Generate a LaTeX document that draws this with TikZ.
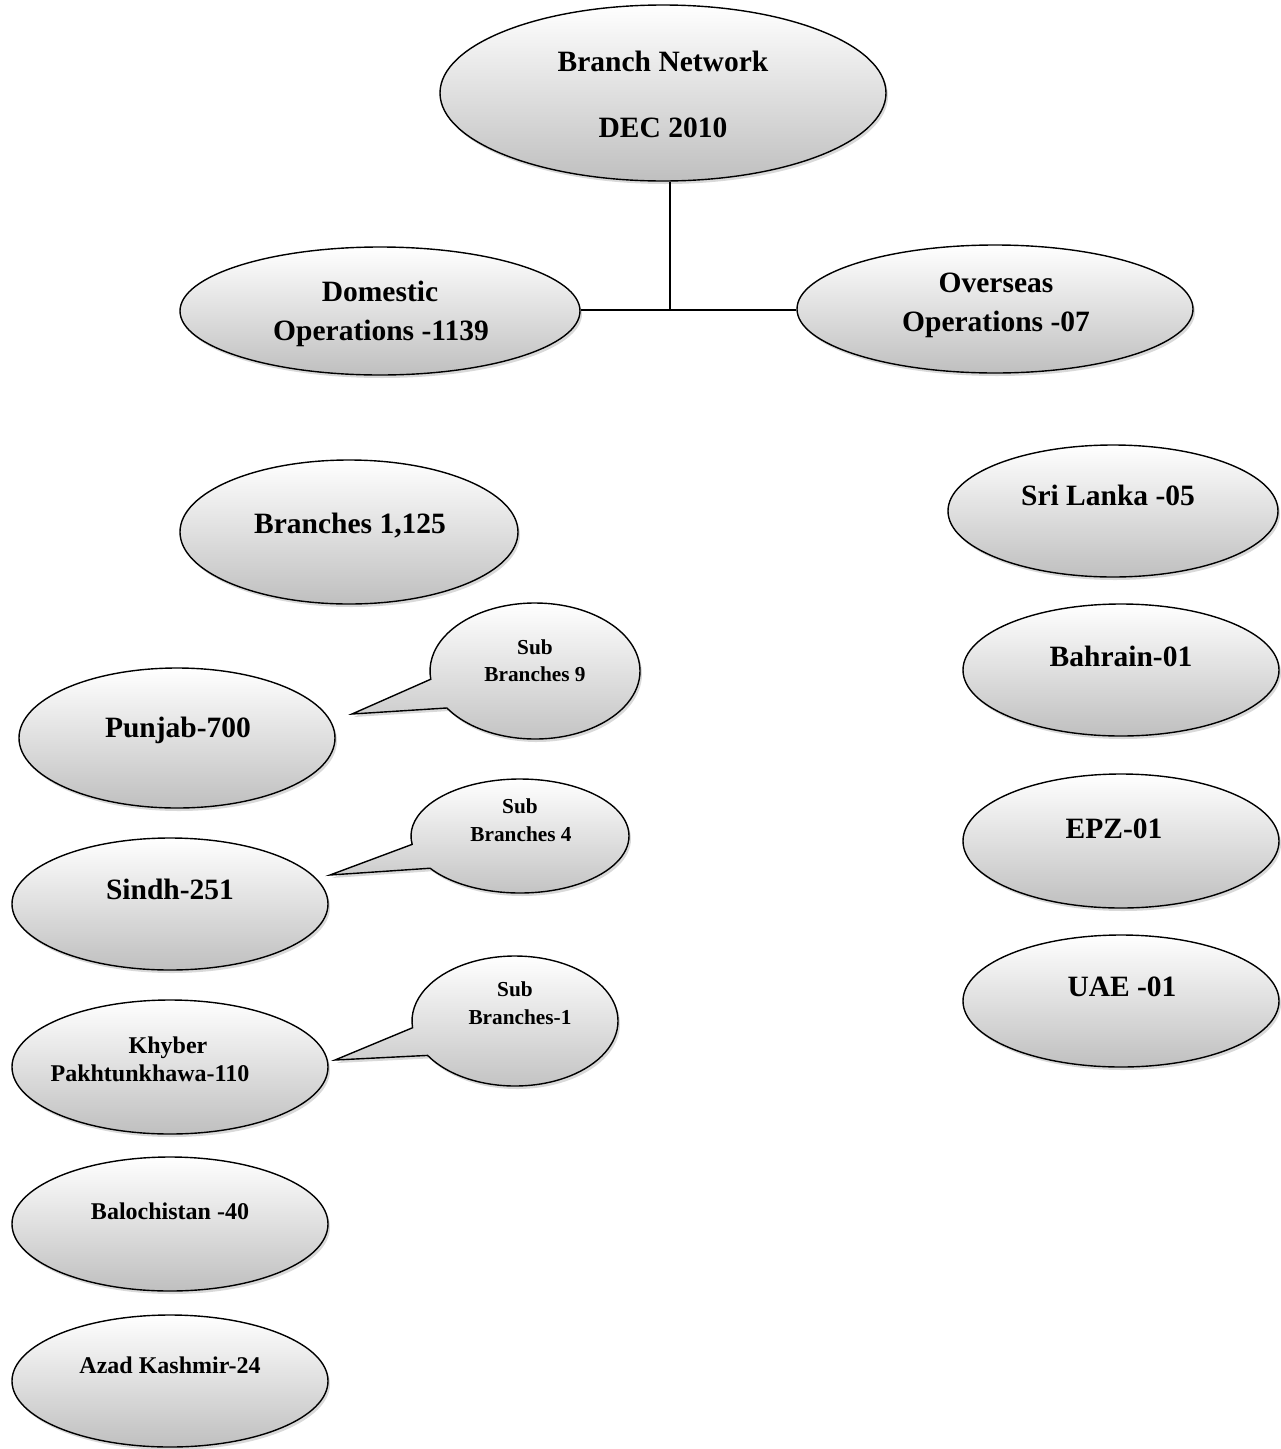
\documentclass[tikz,border=0pt]{standalone}
\usepackage{fontspec}
\setmainfont{Liberation Serif}
\usetikzlibrary{shapes.geometric,shapes.callouts,shadows,calc}
\begin{document}
\begin{tikzpicture}[x=1pt,y=-1pt,
  fillshade/.style={top color=white, bottom color=black!25,
    drop shadow={opacity=0.3, shadow xshift=2pt, shadow yshift=-3pt}},
  oval/.style={ellipse, draw=black, line width=1.4pt, inner sep=0pt, fillshade},
  bubble/.style={ellipse callout, draw=black, line width=1.4pt, inner sep=0pt,
    callout pointer arc=26, fillshade},
  big/.style={font=\fontsize{29.5}{33}\selectfont\bfseries, anchor=base, inner sep=0pt},
  mid/.style={font=\fontsize{24}{28}\selectfont\bfseries, anchor=base, inner sep=0pt},
  small/.style={font=\fontsize{21.3}{25}\selectfont\bfseries, anchor=base, inner sep=0pt},
  link/.style={line width=1.8pt}
]
\useasboundingbox (0,0) rectangle (1281,1449);

% top level
\node[oval, minimum width=446, minimum height=176] (net) at (663,93) {};
\node[big] (netA) at (663,71) {Branch Network};
\node[big] (netB) at (663,137) {DEC 2010};

% second level
\node[oval, minimum width=400, minimum height=128] (dom) at (380,311) {};
\node[big] (domA) at (380,301) {Domestic};
\node[big] (domB) at (381,340) {Operations -1139};
\node[oval, minimum width=396, minimum height=128] (ovs) at (995,309) {};
\node[big] (ovsA) at (996,292) {Overseas};
\node[big] (ovsB) at (996,331) {Operations -07};

% tree connectors
\coordinate (junc) at (670,310);
\draw[link] (net.south -| junc) -- (junc);
\draw[link] (dom.east |- junc) -- (ovs.west |- junc);

% domestic side
\node[oval, minimum width=338, minimum height=144] (br) at (349,532) {};
\node[big] (brT) at (350,533) {Branches 1,125};

\node[oval, minimum width=316, minimum height=140] (pun) at (177,738) {};
\node[big] (punT) at (178,737) {Punjab-700};
\node[oval, minimum width=316, minimum height=132] (sin) at (170,904) {};
\node[big] (sinT) at (170,899) {Sindh-251};
\node[oval, minimum width=316, minimum height=134] (kpk) at (170,1067) {};
\node[mid] (kpkA) at (168,1053) {Khyber};
\node[mid] (kpkB) at (150,1081) {Pakhtunkhawa-110};
\node[oval, minimum width=316, minimum height=134] (bal) at (170,1224) {};
\node[mid] (balT) at (170,1219) {Balochistan -40};
\node[oval, minimum width=316, minimum height=132] (ajk) at (170,1381) {};
\node[mid] (ajkT) at (170,1373) {Azad Kashmir-24};

% sub-branch callouts
\coordinate (tipA) at (352,714);
\coordinate (tipB) at (330,875);
\coordinate (tipC) at (335,1060);
\node[bubble, minimum width=210, minimum height=136, callout absolute pointer=(tipA)] (subA) at (535,671) {};
\node[small] (subAa) at (535,654) {Sub};
\node[small] (subAb) at (535,681) {Branches 9};
\node[bubble, minimum width=218, minimum height=114, callout absolute pointer=(tipB)] (subB) at (520,836) {};
\node[small] (subBa) at (520,813) {Sub};
\node[small] (subBb) at (521,841) {Branches 4};
\node[bubble, minimum width=206, minimum height=130, callout absolute pointer=(tipC)] (subC) at (515,1021) {};
\node[small] (subCa) at (515,996) {Sub};
\node[small] (subCb) at (520,1024) {Branches-1};

% overseas side
\node[oval, minimum width=330, minimum height=132] (sri) at (1113,511) {};
\node[big] (sriT) at (1108,505) {Sri Lanka -05};
\node[oval, minimum width=316, minimum height=132] (bah) at (1121,670) {};
\node[big] (bahT) at (1121,666) {Bahrain-01};
\node[oval, minimum width=316, minimum height=134] (epz) at (1121,841) {};
\node[big] (epzT) at (1114,838) {EPZ-01};
\node[oval, minimum width=316, minimum height=132] (uae) at (1121,1001) {};
\node[big] (uaeT) at (1122,996) {UAE -01};
\end{tikzpicture}
\end{document}
